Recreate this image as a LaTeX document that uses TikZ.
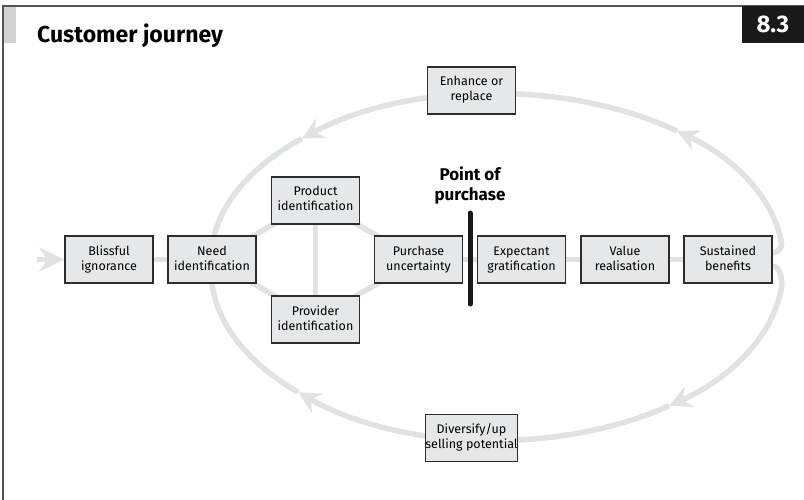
\documentclass[tikz,border=0pt]{standalone}
\usepackage{fontspec}
\setmainfont{Fira Sans}
\usetikzlibrary{arrows.meta}
\pgfdeclarelayer{bg}
\pgfsetlayers{bg,main}
\definecolor{conn}{RGB}{225,226,228}
\definecolor{boxfill}{RGB}{230,231,232}
\definecolor{boxline}{RGB}{45,45,45}
\definecolor{framecol}{RGB}{85,85,85}
\definecolor{tabcol}{RGB}{209,210,212}
\newcommand{\twoline}[2]{\strut#1\\\strut#2}
\begin{document}
\begin{tikzpicture}[x=1pt,y=1pt,
  stage/.style={draw=boxline, line width=1.4pt, fill=boxfill, minimum width=88pt, minimum height=47pt, inner sep=0pt, align=center, font=\fontsize{12.5}{15}\selectfont},
  link/.style={draw=conn, line width=5.5pt},
  loopline/.style={draw=conn, line width=5.5pt},
  looptip/.style={-{Stealth[length=22pt,width=22pt,inset=7.5pt]}},
]
\useasboundingbox (0,0) rectangle (804,-500);
% frame
\draw[framecol, line width=2pt] (3,-500) -- (3,-6) -- (804,-6);
\fill[tabcol] (4,-7) rectangle (16,-43);
\node[anchor=base west, inner sep=0pt, font=\bfseries\fontsize{23}{27}\selectfont] (title) at (37,-43) {Customer journey};
\node[anchor=north east, fill=black!90, text=white, minimum width=62pt, minimum height=37pt, inner sep=0pt, font=\bfseries\fontsize{24}{28}\selectfont] (num) at (804,-6) {8.3};

% stages
\node[stage] (bi) at (109,-259.5) {\twoline{Blissful}{ignorance}};
\node[stage] (ni) at (212,-259.5) {\twoline{Need}{identification}};
\node[stage] (pi) at (315.5,-200.5) {\twoline{Product}{identification}};
\node[stage] (pv) at (315.5,-319.5) {\twoline{Provider}{identification}};
\node[stage] (pu) at (418.5,-259.5) {\twoline{Purchase}{uncertainty}};
\node[stage] (eg) at (521.5,-259.5) {\twoline{Expectant}{gratification}};
\node[stage] (vr) at (625,-259.5) {\twoline{Value}{realisation}};
\node[stage] (sb) at (728,-259.5) {\twoline{Sustained}{benefits}};
\node[stage] (er) at (471.5,-90.5) {\twoline{Enhance or}{replace}};
\node[stage] (du) at (471.5,-438) {\twoline{Diversify/up}{selling potential}};

% point of purchase
\node[align=center, inner sep=0pt, font=\bfseries\fontsize{17}{20}\selectfont] (pop) at (470,-185) {Point of\\purchase};
\coordinate (bartop) at (470,-213);
\coordinate (barbot) at (470,-304);
\draw[black!90, line width=5pt, line cap=round] (bartop) -- (barbot);

\begin{pgfonlayer}{bg}
  \coordinate (entry) at (37,-259.5);
  \draw[link, -{Stealth[length=25pt,width=24pt,inset=8pt]}] (entry) -- (bi.west);
  \draw[link] (bi.center) -- (ni.center);
  \draw[link] (ni.center) -- (pi.center);
  \draw[link] (ni.center) -- (pv.center);
  \draw[link] (pi.center) -- (pv.center);
  \draw[link] (pi.center) -- (pu.center);
  \draw[link] (pv.center) -- (pu.center);
  \draw[link] (pu.center) -- (eg.center);
  \draw[link] (eg.center) -- (vr.center);
  \draw[link] (vr.center) -- (sb.center);
  % upper loop
  \draw[loopline, looptip] ([yshift=6.5pt]sb.east) to[out=10,in=-95] ([shift={(5.5:286 and 166)}]497,-260)
     arc[start angle=5.5, end angle=51, x radius=286, y radius=166];
  \draw[loopline, looptip] ([shift={(51:286 and 166)}]497,-260)
     arc[start angle=51, end angle=133, x radius=286, y radius=166];
  \draw[loopline] ([shift={(133:286 and 166)}]497,-260)
     arc[start angle=133, end angle=180, x radius=286, y radius=166];
  % lower loop
  \draw[loopline, looptip] ([yshift=-6.5pt]sb.east) to[out=-10,in=95] ([shift={(-5:286 and 170)}]497,-270)
     arc[start angle=-5, end angle=-53, x radius=286, y radius=170];
  \draw[loopline, looptip] ([shift={(-53:286 and 170)}]497,-270)
     arc[start angle=-53, end angle=-134, x radius=286, y radius=170];
  \draw[loopline] ([shift={(-134:286 and 170)}]497,-270)
     arc[start angle=-134, end angle=-180, x radius=286, y radius=170];
\end{pgfonlayer}
\end{tikzpicture}
\end{document}
